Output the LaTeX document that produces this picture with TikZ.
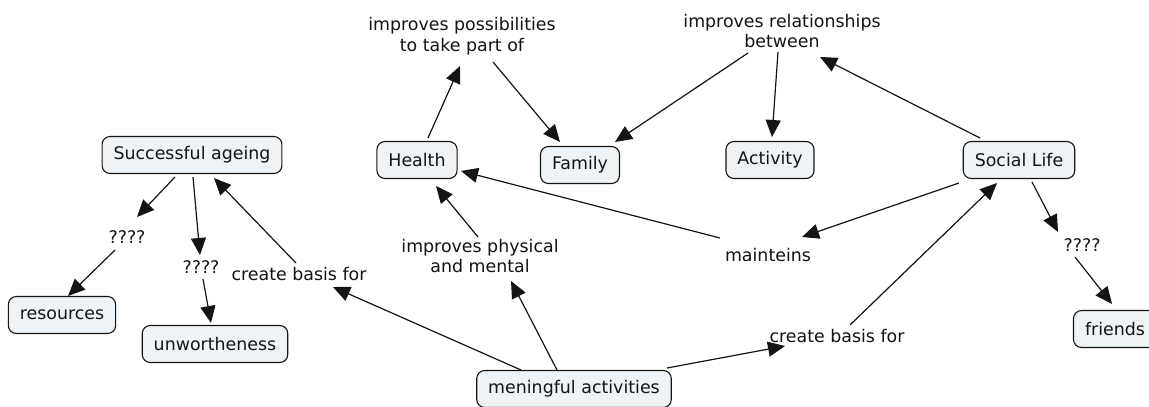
\documentclass[tikz,border=0pt]{standalone}
\usepackage{fontspec}
\setmainfont{DejaVu Sans}
\usetikzlibrary{arrows.meta,calc}
\definecolor{boxfill}{RGB}{238,243,247}
\definecolor{ink}{RGB}{20,20,20}
\tikzset{
  concept/.style={draw=ink, line width=1.1pt, fill=boxfill, rounded corners=8pt,
    minimum height=37pt, inner xsep=11.5pt, text=ink, font=\fontsize{17.4}{20}\selectfont},
  lbl/.style={text=ink, inner sep=1pt, align=center, font=\fontsize{17.4}{20.5}\selectfont},
  arr/.style={draw=ink, line width=1.2pt, -{Triangle[length=17pt,width=15pt]}}
}
\begin{document}
\begin{tikzpicture}[x=1pt,y=-1pt]
\useasboundingbox[fill=white] (0,0) rectangle (1149,407);
% concepts
\node[concept] (SA) at (192,155) {Successful ageing};
\node[concept] (res) at (62,315) {resources};
\node[concept] (unw) at (215,344) {unwortheness};
\node[concept] (H) at (417,160) {Health};
\node[concept] (F) at (580,165) {Family};
\node[concept] (A) at (770,160) {Activity};
\node[concept] (SL) at (1019,160) {Social Life};
\node[concept] (fr) at (1115,329) {friends};
\node[concept] (ma) at (574,389) {meningful activities};
% linking phrases
\node[lbl] (q1) at (127,237) {????};
\node[lbl] (q2) at (201,267) {????};
\node[lbl] (q3) at (1082,245) {????};
\node[lbl] (cb1) at (299,274) {create basis for};
\node[lbl] (cb2) at (837,336) {create basis for};
\node[lbl] (ip) at (462,36) {improves possibilities\\to take part of};
\node[lbl] (ir) at (782,31) {improves relationships\\between};
\node[lbl] (iph) at (480,256) {improves physical\\and mental};
\node[lbl] (mt) at (768,255) {mainteins};
% connectors
\draw[arr] ($(SA)+(-17,22)$) -- ($(q1)+(10,-20)$);
\draw[arr] ($(q1)+(-12,13)$) -- ($(res)+(6,-19)$);
\draw[arr] ($(SA)+(1,22)$) -- ($(q2)+(-1,-12)$);
\draw[arr] ($(q2)+(2,12)$) -- ($(unw)+(-4,-21)$);
\draw[arr] ($(cb1)+(-3,-11)$) -- ($(SA)+(22,23)$);
\draw[arr] ($(ma)+(-53,-19)$) -- ($(cb1)+(34,13)$);
\draw[arr] ($(ma)+(-17,-19)$) -- ($(iph)+(31,25)$);
\draw[arr] ($(iph)+(-2,-19)$) -- ($(H)+(19,26)$);
\draw[arr] ($(H)+(11,-22)$) -- ($(ip)+(-2,30)$);
\draw[arr] ($(ip)+(31,26)$) -- ($(F)+(-20,-23)$);
\draw[arr] ($(ir)+(-34,22)$) -- ($(F)+(35,-23)$);
\draw[arr] ($(ir)+(-4,21)$) -- ($(A)+(2,-23)$);
\draw[arr] ($(SL)+(-39,-22)$) -- ($(ir)+(38,26)$);
\draw[arr] ($(SL)+(-60,23)$) -- ($(mt)+(34,-18)$);
\draw[arr] ($(mt)+(-48,-17)$) -- ($(H)+(44,11)$);
\draw[arr] ($(ma)+(93,-21)$) -- ($(cb2)+(-52,10)$);
\draw[arr] ($(cb2)+(13,-11)$) -- ($(SL)+(-22,23)$);
\draw[arr] ($(SL)+(13,22)$) -- ($(q3)+(-24,-13)$);
\draw[arr] ($(q3)+(-7,12)$) -- ($(fr)+(-3,-25)$);
\end{tikzpicture}
\end{document}
